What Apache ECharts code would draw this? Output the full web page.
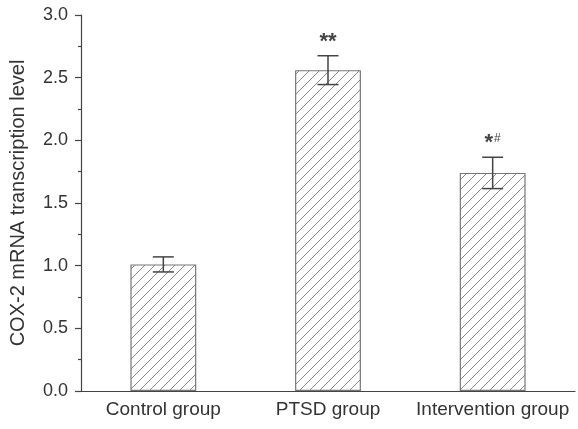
<!DOCTYPE html>
<html><head><meta charset="utf-8">
<script src="https://cdn.jsdelivr.net/npm/echarts@6/dist/echarts.min.js"></script>
<style>html,body{margin:0;padding:0;background:#fff}#c{width:578px;height:429px}</style>
</head><body><div id="c"></div>
<script>
const categories = ['Control group', 'PTSD group', 'Intervention group'];
const values = [1.01, 2.56, 1.74];
const errors = [0.06, 0.115, 0.125];
const marks = ['', '**', '*#'];
const yTicks = [0, 0.5, 1.0, 1.5, 2.0, 2.5, 3.0];

const tile = document.createElement('canvas');
tile.width = 10; tile.height = 10;
const g = tile.getContext('2d');
g.fillStyle = '#fff'; g.fillRect(0, 0, 10, 10);
g.strokeStyle = '#8a8a8a'; g.lineWidth = 1;
g.beginPath();
g.moveTo(-1, 11); g.lineTo(11, -1);
g.moveTo(-1, 1); g.lineTo(1, -1);
g.moveTo(9, 11); g.lineTo(11, 9);
g.stroke();

const font = 'Liberation Sans, Arial, sans-serif';
const chart = echarts.init(document.getElementById('c'), null, {renderer: 'canvas'});
chart.setOption({
  animation: false,
  grid: {left: 79, top: 15, right: 3, bottom: 38},
  xAxis: [{
    type: 'category', data: categories,
    axisLine: {lineStyle: {color: '#444', width: 1.2}},
    axisTick: {alignWithLabel: true, length: 6, lineStyle: {color: '#444', width: 1.2}},
    axisLabel: {color: '#333', fontSize: 19, fontFamily: font, margin: 9, interval: 0}
  }, {
    type: 'category', data: categories, position: 'bottom',
    axisLine: {show: false},
    axisTick: {length: 4, lineStyle: {color: '#444', width: 1.2}},
    axisLabel: {show: false}
  }],
  yAxis: {
    type: 'value', min: yTicks[0], max: yTicks[yTicks.length - 1], interval: 0.5,
    name: 'COX-2 mRNA transcription level', nameLocation: 'middle', nameGap: 53,
    nameTextStyle: {color: '#333', fontSize: 20, fontFamily: font},
    axisLine: {show: true, lineStyle: {color: '#444', width: 1.2}},
    axisTick: {show: true, length: 6, lineStyle: {color: '#444', width: 1.2}},
    minorTick: {show: true, splitNumber: 2, length: 3, lineStyle: {color: '#444', width: 1.2}},
    splitLine: {show: false},
    axisLabel: {color: '#333', fontSize: 18, fontFamily: font, margin: 13,
      formatter: v => v.toFixed(1)}
  },
  series: [{
    type: 'bar', data: values, barWidth: '40%',
    itemStyle: {color: {image: tile, repeat: 'repeat'}, borderColor: '#777', borderWidth: 1.2}
  }, {
    type: 'custom',
    data: values.map((v, i) => [i, v, errors[i], marks[i]]),
    renderItem: function (params, api) {
      const i = api.value(0), v = api.value(1), e = api.value(2);
      const top = api.coord([i, v + e]);
      const bot = api.coord([i, v - e]);
      const hw = 10.5;
      const st = {stroke: '#444', lineWidth: 1.5};
      const children = [
        {type: 'line', shape: {x1: top[0], y1: top[1], x2: bot[0], y2: bot[1]}, style: st},
        {type: 'line', shape: {x1: top[0] - hw, y1: top[1], x2: top[0] + hw, y2: top[1]}, style: st},
        {type: 'line', shape: {x1: bot[0] - hw, y1: bot[1], x2: bot[0] + hw, y2: bot[1]}, style: st}
      ];
      const m = marks[params.dataIndex];
      if (m) {
        const parts = m.split('');
        const txt = parts.map(c => c === '*' ? '{s|*}' : '{h|' + c + '}').join('');
        children.push({type: 'text', x: top[0], y: top[1] - 3,
          style: {text: txt, align: 'center', verticalAlign: 'bottom',
            rich: {s: {fontSize: 22, fontWeight: 'bold', fontFamily: font, fill: '#444', color: '#444'},
                   h: {fontSize: 12, fontFamily: font, fill: '#444', color: '#444', verticalAlign: 'top', padding: [0, 0, 8, 1]}}}});
      }
      return {type: 'group', children};
    },
    z: 5
  }]
});
</script></body></html>
